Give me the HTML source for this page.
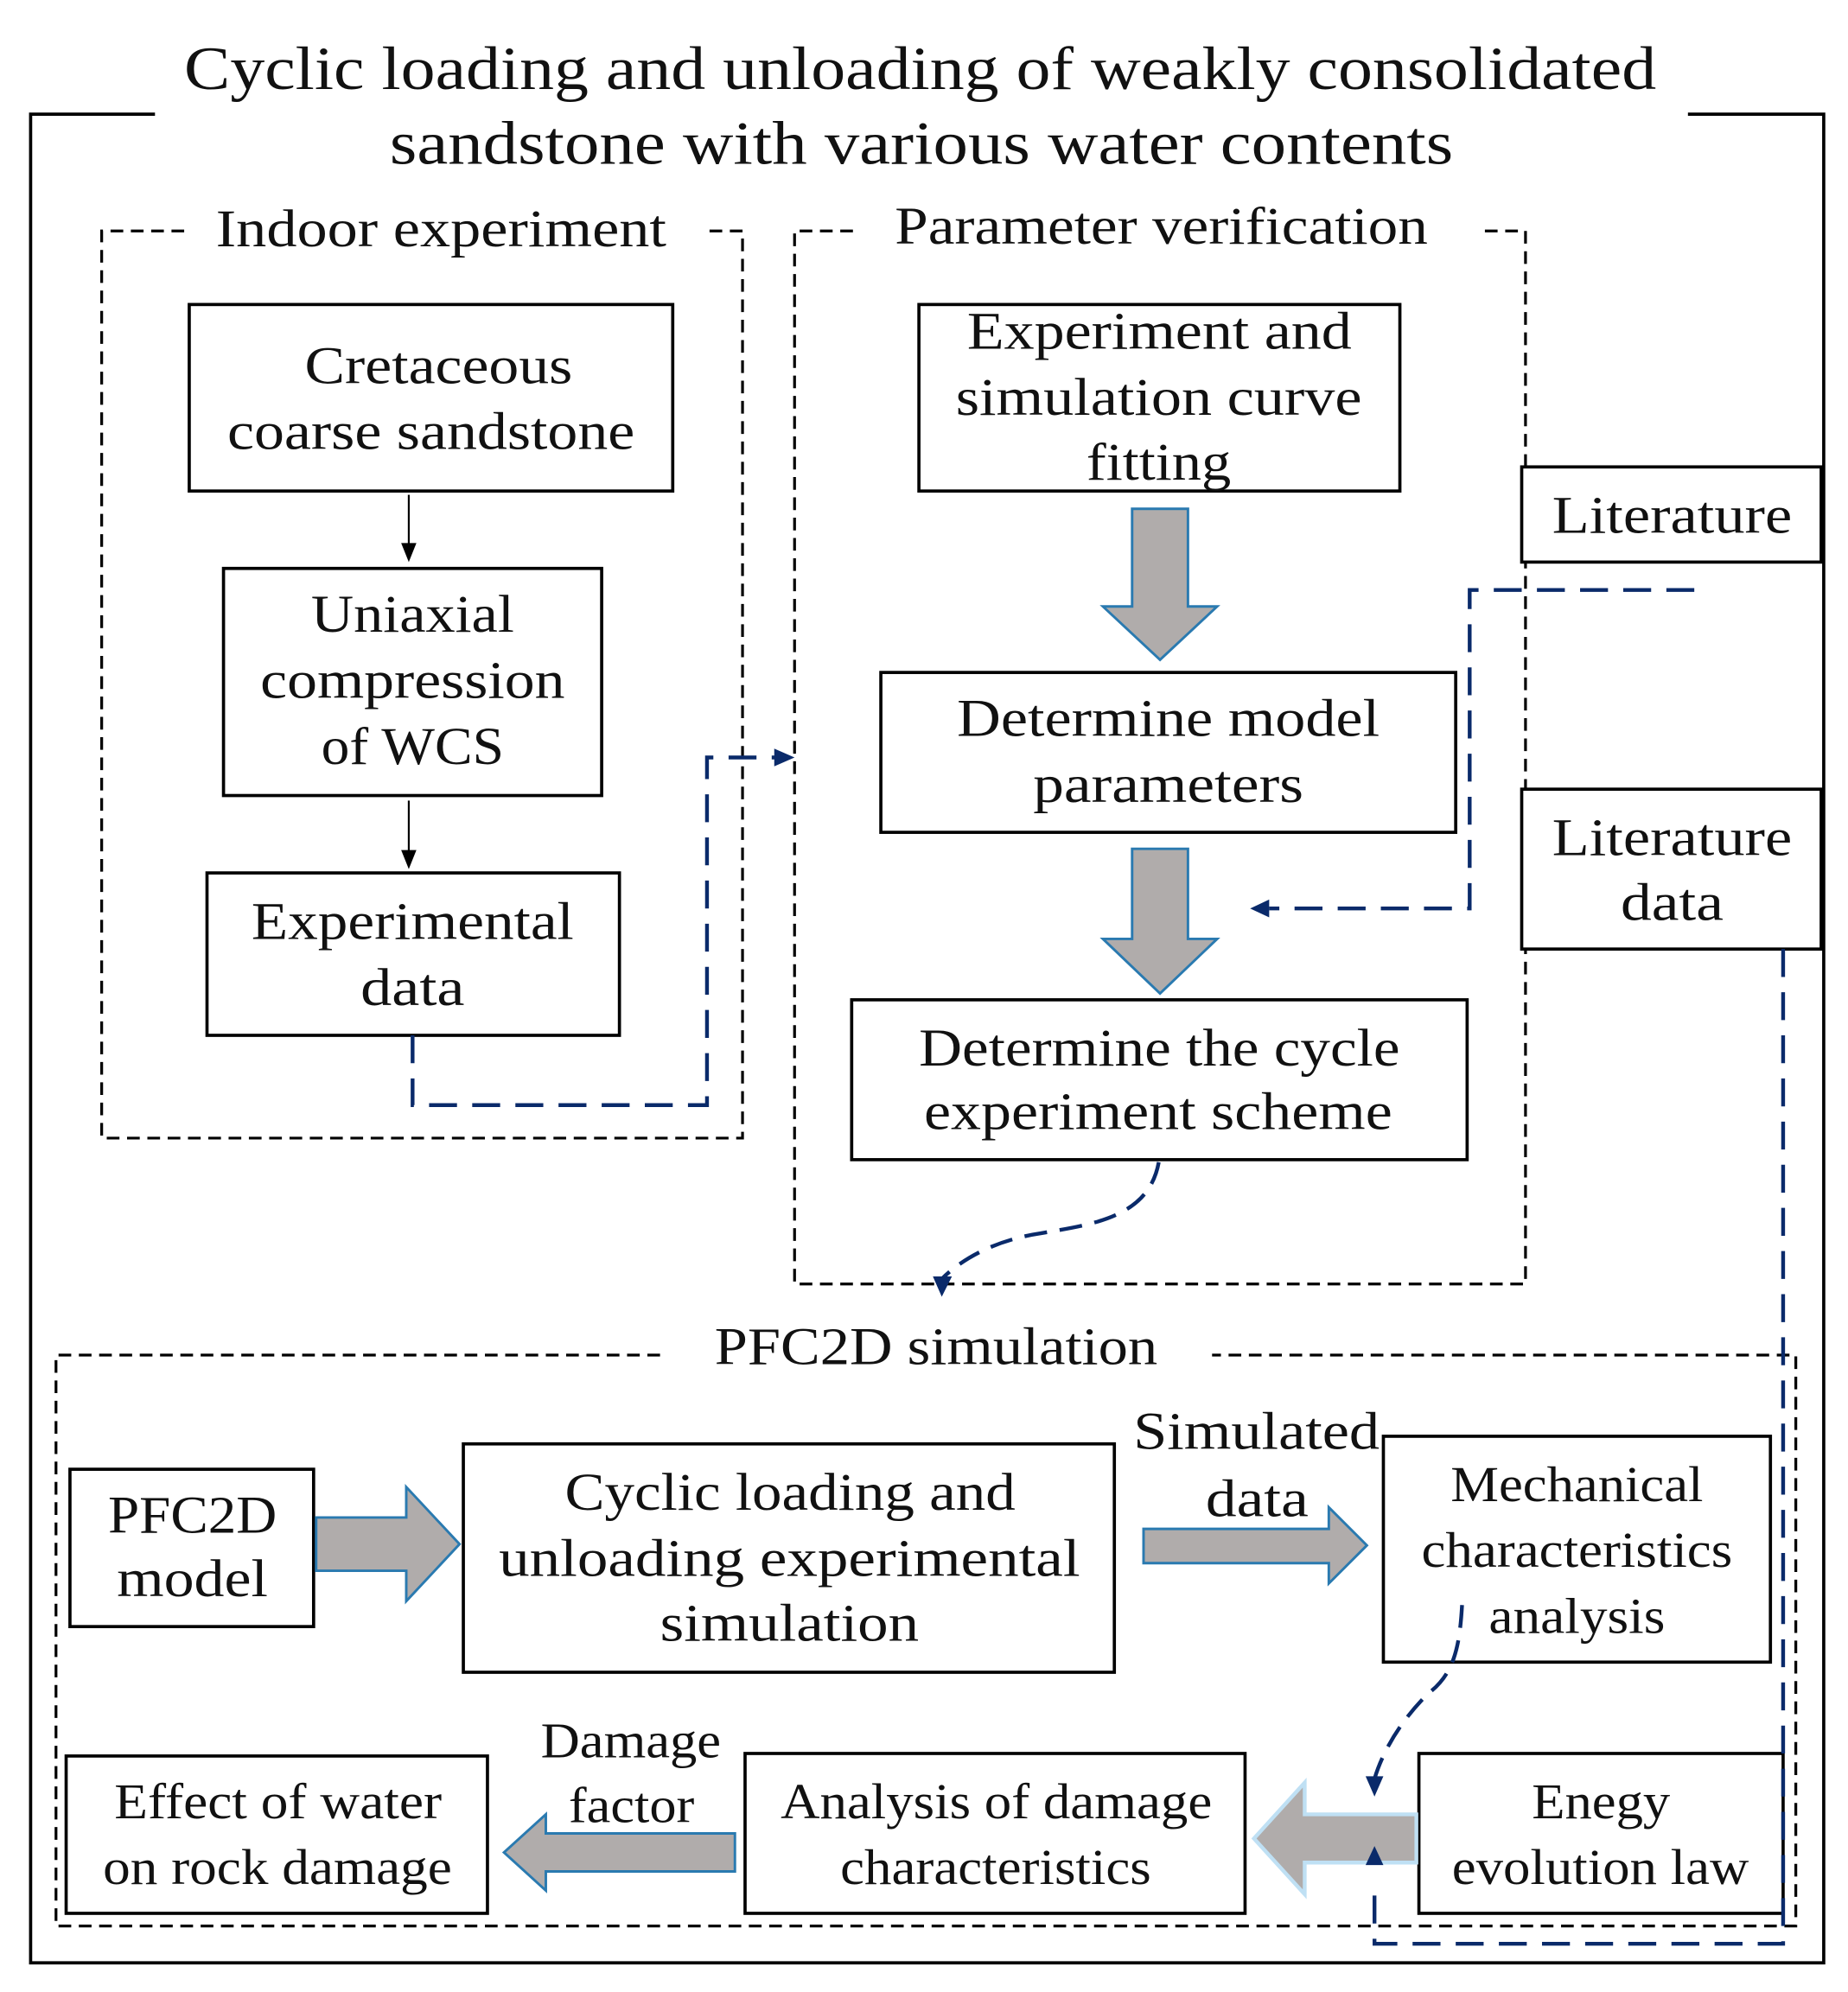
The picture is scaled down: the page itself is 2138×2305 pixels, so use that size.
<!DOCTYPE html>
<html><head><meta charset="utf-8"><style>html,body{margin:0;padding:0;background:#fff}svg{display:block}</style></head>
<body>
<svg width="2138" height="2305" viewBox="0 0 1456 1570" xmlns="http://www.w3.org/2000/svg" font-family="'Liberation Serif', serif" fill="none">
<path d="M122,90 H24 V1547 H1437 V90 H1330" stroke="#000" stroke-width="2.5"/>
<g fill="#111" font-size="48" lengthAdjust="spacingAndGlyphs">
<text x="145" y="70" textLength="1160" lengthAdjust="spacingAndGlyphs">Cyclic loading and unloading of weakly consolidated</text>
<text x="307" y="129" textLength="838" lengthAdjust="spacingAndGlyphs">sandstone with various water contents</text>
</g>
<g stroke="#000" stroke-width="2.2" stroke-dasharray="10,6">
<path d="M145,182 H80 V897 H585 V182 H555"/>
<path d="M672,182 H626 V1012 H1202 V182 H1165"/>
<path d="M520,1068 H44 V1518 H1415 V1068 H955"/>
</g>
<g fill="#111" font-size="42">
<text x="170" y="194" textLength="355" lengthAdjust="spacingAndGlyphs">Indoor experiment</text>
<text x="705" y="192" textLength="420" lengthAdjust="spacingAndGlyphs">Parameter verification</text>
<text x="563" y="1075" textLength="349" lengthAdjust="spacingAndGlyphs">PFC2D simulation</text>
</g>
<g stroke="#000" stroke-width="2.5" fill="#fff">
<rect x="149" y="240" width="381" height="147"/>
<rect x="176" y="448" width="298" height="179"/>
<rect x="163" y="688" width="325" height="128"/>
<rect x="724" y="240" width="379" height="147"/>
<rect x="694" y="530" width="453" height="126"/>
<rect x="671" y="788" width="485" height="126"/>
<rect x="1199" y="368" width="236" height="75"/>
<rect x="1199" y="622" width="236" height="126"/>
<rect x="55" y="1158" width="192" height="124"/>
<rect x="365" y="1138" width="513" height="180"/>
<rect x="1090" y="1132" width="305" height="178"/>
<rect x="1118" y="1382" width="287" height="126"/>
<rect x="587" y="1382" width="394" height="126"/>
<rect x="52" y="1384" width="332" height="124"/>
</g>
<g fill="#111" font-size="42">
<text x="240" y="302" textLength="211" lengthAdjust="spacingAndGlyphs">Cretaceous</text>
<text x="179" y="354" textLength="321" lengthAdjust="spacingAndGlyphs">coarse sandstone</text>
<text x="245" y="498" textLength="160" lengthAdjust="spacingAndGlyphs">Uniaxial</text>
<text x="205" y="550" textLength="240" lengthAdjust="spacingAndGlyphs">compression</text>
<text x="253" y="602" textLength="144" lengthAdjust="spacingAndGlyphs">of WCS</text>
<text x="198" y="740" textLength="254" lengthAdjust="spacingAndGlyphs">Experimental</text>
<text x="284" y="792" textLength="82" lengthAdjust="spacingAndGlyphs">data</text>
<text x="762" y="275" textLength="303" lengthAdjust="spacingAndGlyphs">Experiment and</text>
<text x="753" y="327" textLength="320" lengthAdjust="spacingAndGlyphs">simulation curve</text>
<text x="856" y="378" textLength="114" lengthAdjust="spacingAndGlyphs">fitting</text>
<text x="754" y="580" textLength="333" lengthAdjust="spacingAndGlyphs">Determine model</text>
<text x="814" y="632" textLength="213" lengthAdjust="spacingAndGlyphs">parameters</text>
<text x="724" y="840" textLength="379" lengthAdjust="spacingAndGlyphs">Determine the cycle</text>
<text x="728" y="890" textLength="369" lengthAdjust="spacingAndGlyphs">experiment scheme</text>
<text x="1223" y="420" textLength="189" lengthAdjust="spacingAndGlyphs">Literature</text>
<text x="1223" y="674" textLength="189" lengthAdjust="spacingAndGlyphs">Literature</text>
<text x="1277" y="725" textLength="81" lengthAdjust="spacingAndGlyphs">data</text>
<text x="85" y="1208" textLength="133" lengthAdjust="spacingAndGlyphs">PFC2D</text>
<text x="92" y="1258" textLength="119" lengthAdjust="spacingAndGlyphs">model</text>
<text x="445" y="1190" textLength="355" lengthAdjust="spacingAndGlyphs">Cyclic loading and</text>
<text x="393" y="1242" textLength="458" lengthAdjust="spacingAndGlyphs">unloading experimental</text>
<text x="520" y="1293" textLength="204" lengthAdjust="spacingAndGlyphs">simulation</text>
<text x="893" y="1142" textLength="194" lengthAdjust="spacingAndGlyphs">Simulated</text>
<text x="950" y="1195" textLength="81" lengthAdjust="spacingAndGlyphs">data</text>
<text x="1143" y="1183" textLength="199" lengthAdjust="spacingAndGlyphs" font-size="40">Mechanical</text>
<text x="1120" y="1235" textLength="245" lengthAdjust="spacingAndGlyphs" font-size="40">characteristics</text>
<text x="1173" y="1287" textLength="139" lengthAdjust="spacingAndGlyphs" font-size="40">analysis</text>
<text x="1207" y="1433" textLength="109" lengthAdjust="spacingAndGlyphs" font-size="40">Enegy</text>
<text x="1144" y="1485" textLength="234" lengthAdjust="spacingAndGlyphs" font-size="40">evolution law</text>
<text x="615" y="1433" textLength="340" lengthAdjust="spacingAndGlyphs" font-size="40">Analysis of damage</text>
<text x="662" y="1485" textLength="245" lengthAdjust="spacingAndGlyphs" font-size="40">characteristics</text>
<text x="426" y="1385" textLength="142" lengthAdjust="spacingAndGlyphs" font-size="40">Damage</text>
<text x="448" y="1436" textLength="99" lengthAdjust="spacingAndGlyphs" font-size="40">factor</text>
<text x="90" y="1433" textLength="258" lengthAdjust="spacingAndGlyphs" font-size="40">Effect of water</text>
<text x="81" y="1485" textLength="275" lengthAdjust="spacingAndGlyphs" font-size="40">on rock damage</text>
</g>
<g stroke="#000" stroke-width="1.5">
<path d="M322,390 V430"/><path d="M322,631 V672"/>
</g>
<path d="M316,428 L322,443 L328,428 z" fill="#000"/>
<path d="M316,670 L322,685 L328,670 z" fill="#000"/>
<g fill="#b0acab" stroke="#2a7ab0" stroke-width="2">
<path d="M892,401 H936 V478 H959 L914,520 L869,478 H892 z"/>
<path d="M892,669 H936 V740 H959 L914,783 L869,740 H892 z"/>
<path d="M249,1196 H320 V1172 L362,1217 L320,1262 V1238 H249 z"/>
<path d="M901,1205 H1047 V1188 L1077,1218 L1047,1248 V1232 H901 z"/>
<path d="M579,1445 H430 V1430 L397,1460 L430,1490 V1475 H579 z"/>
</g>
<path d="M1116,1430 H1028 V1405 L988,1449 L1028,1493 V1468 H1116 z" fill="#b0acab" stroke="#bfe0f4" stroke-width="3"/>
<g stroke="#0a2a6a" stroke-width="3" stroke-dasharray="22,12" fill="none">
<path d="M325,816 V871 H557 V597 H612"/>
<path d="M1335,465 H1158 V716 H1000"/>
<path d="M1405,748 V1532 H1083 V1482"/>
<path d="M913,916 C905,960 860,965 820,972 C780,978 755,995 742,1008" stroke-dasharray="18,10"/>
<path d="M1152,1265 C1150,1300 1145,1320 1125,1335 C1100,1360 1088,1385 1083,1402" stroke-dasharray="18,10"/>
</g>
<g fill="#0a2a6a">
<path d="M610,590 L626,597 L610,604 z"/>
<path d="M1000,709 L985,716 L1000,723 z"/>
<path d="M1076,1470 L1083,1455 L1090,1470 z"/>
<path d="M735,1006 L742,1022 L750,1006 z"/>
<path d="M1076,1400 L1083,1416 L1090,1400 z"/>
</g>
</svg>
</body></html>
